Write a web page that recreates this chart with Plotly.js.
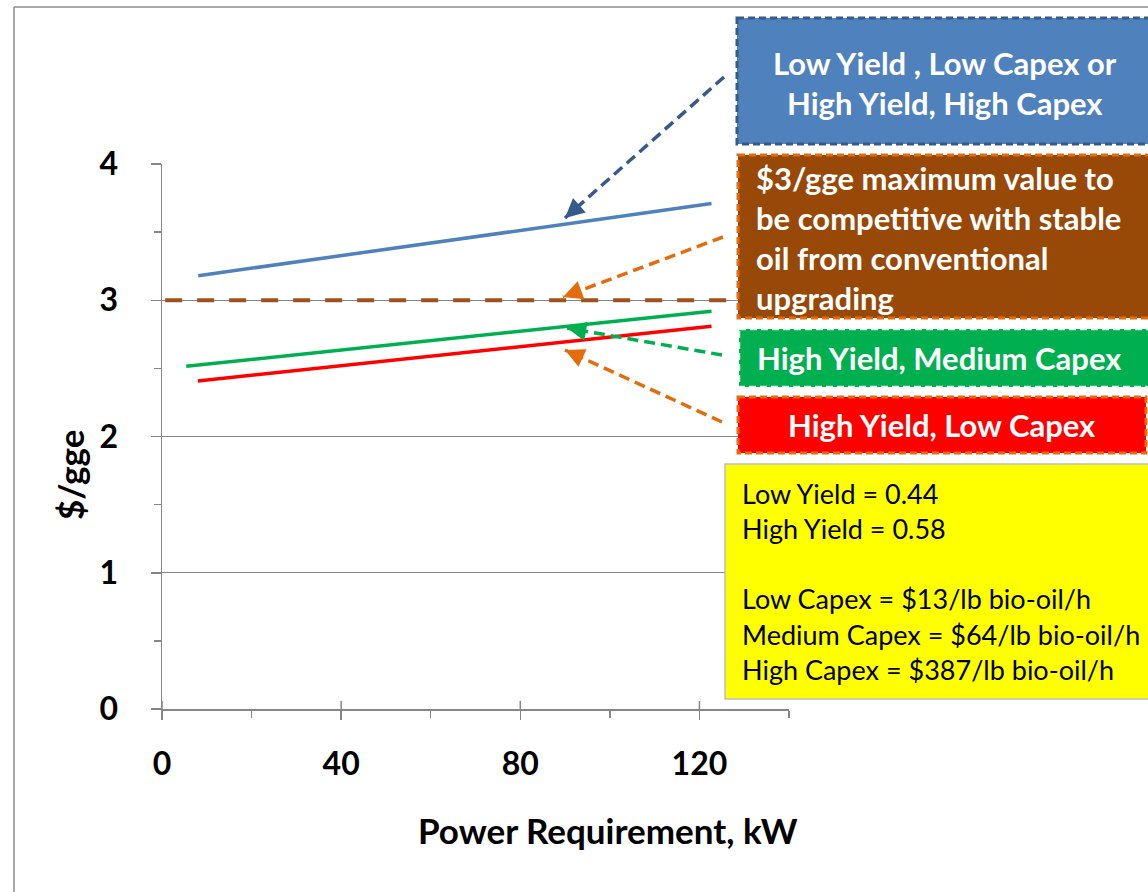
<!DOCTYPE html>
<html>
<head>
<meta charset="utf-8">
<script src="https://cdn.plot.ly/plotly-3.0.1.min.js"></script>
<style>
html,body{margin:0;padding:0;background:#fff;}
#chart{width:1148px;height:892px;}
</style>
</head>
<body>
<div id="chart"></div>
<script>
// ---- data ----
const powerBlue = [8.1, 122.7];
const costBlue = [3.18, 3.71];
const powerGreen = [5.4, 122.7];
const costGreen = [2.515, 2.92];
const powerRed = [8.0, 122.7];
const costRed = [2.407, 2.81];
const powerLimit = [0.7, 128];
const costLimit = [3, 3];
const xTicks = [0, 40, 80, 120];
const yTicks = [0, 1, 2, 3, 4];

const blueText = ["Low Yield , Low Capex or", "High Yield, High Capex"];
const brownText = ["$3/gge maximum value to", "be competitive with stable", "oil from conventional", "upgrading"];
const greenText = ["High Yield, Medium Capex"];
const redText = ["High Yield, Low Capex"];
const yellowText = ["Low Yield = 0.44", "High Yield = 0.58", "", "Low Capex = $13/lb bio-oil/h", "Medium Capex = $64/lb bio-oil/h", "High Capex = $387/lb bio-oil/h"];

// ---- layout geometry (pixels) ----
const W = 1148, H = 892;
const L = 162, R = 789, T = 164, B = 709;
const PW = R - L, PH = B - T;
const px = v => (v - L) / PW;
const py = v => (B - v) / PH;
const FONT = "Lato, 'Open Sans', sans-serif";

const traces = [
  {x: powerBlue, y: costBlue, mode: 'lines', line: {color: '#4F81BD', width: 3.5}, name: 'blue'},
  {x: powerLimit, y: costLimit, mode: 'lines', line: {color: '#9E531B', width: 4, dash: '17px,15px'}, name: 'limit'},
  {x: powerGreen, y: costGreen, mode: 'lines', line: {color: '#00B050', width: 3.5}, name: 'green'},
  {x: powerRed, y: costRed, mode: 'lines', line: {color: '#FF0000', width: 3.5}, name: 'red'}
];

const shapes = [];
const annotations = [];

// outer chart border (left and top)
shapes.push({type: 'line', xref: 'paper', yref: 'paper', x0: px(14), x1: px(14), y0: py(7), y1: py(900), line: {color: '#8C8C8C', width: 1.5}});
shapes.push({type: 'line', xref: 'paper', yref: 'paper', x0: px(14), x1: px(1160), y0: py(7), y1: py(7), line: {color: '#8C8C8C', width: 1.5}});

// crossing part of x-axis major ticks (inside portion)
xTicks.forEach(v => {
  shapes.push({type: 'line', xref: 'x', yref: 'paper', x0: v, x1: v, y0: 0, y1: 8 / PH, line: {color: '#868686', width: 1.5}});
});

// boxes
function box(x0, y0, x1, y1, fill, border, dash, width) {
  shapes.push({type: 'rect', xref: 'paper', yref: 'paper', layer: 'above',
    x0: px(x0), x1: px(x1), y0: py(y0), y1: py(y1),
    fillcolor: fill, line: {color: border, width: width, dash: dash}});
}
function lines(arr, xpos, yStart, step, anchor, size, color, bold) {
  arr.forEach((t, i) => {
    if (!t) return;
    annotations.push({xref: 'paper', yref: 'paper', x: px(xpos), y: py(yStart + i * step),
      xanchor: anchor, yanchor: 'middle', showarrow: false,
      text: bold ? '<b>' + t + '</b>' : t,
      font: {family: FONT, size: size, color: color}});
  });
}

// arrows: dashed shaft + arrowhead
function arrow(tx, ty, hx, hy, color) {
  shapes.push({type: 'line', xref: 'paper', yref: 'paper', layer: 'above',
    x0: px(tx), y0: py(ty), x1: px(hx), y1: py(hy),
    line: {color: color, width: 3.5, dash: '11px,6px'}});
  const dx = tx - hx, dy = ty - hy, len = Math.hypot(dx, dy);
  annotations.push({xref: 'paper', yref: 'paper', x: px(hx), y: py(hy), ax: dx / len * 16, ay: dy / len * 16,
    showarrow: true, arrowhead: 2, arrowsize: 1.1, arrowwidth: 3.5, arrowcolor: color, text: ''});
}

arrow(724, 77, 565, 218, '#375A8C');
arrow(723, 237, 563, 297, '#E46C0A');
arrow(722, 355, 567, 328, '#00B050');
arrow(722, 422, 565, 350, '#E46C0A');

box(737, 18, 1175, 144, '#4F81BD', '#375A8C', '7px,4px', 3);
box(738, 155, 1175, 318, '#984807', '#E46C0A', '7px,4px', 3);
box(739, 329, 1175, 387, '#00B050', 'rgba(255,255,255,0.85)', '7px,4px', 2.5);
box(738, 397, 1146, 453, '#FF0000', '#E46C0A', '7px,4px', 3);
box(725, 464, 1175, 699, '#FFFF00', '#BFBFBF', 'solid', 1.5);

lines(blueText, 945, 63, 40, 'center', 31, '#FFFFFF', true);
lines(brownText, 754, 178, 40, 'left', 31, '#FFFFFF', true);
lines(greenText, 939, 358, 40, 'center', 31, '#FFFFFF', true);
lines(redText, 942, 425, 40, 'center', 31, '#FFFFFF', true);
lines(yellowText, 740, 493, 35.3, 'left', 27, '#000000', false);

// axis titles
annotations.push({xref: 'paper', yref: 'paper', x: px(608), y: py(830), xanchor: 'center', yanchor: 'middle', showarrow: false,
  text: '<b>Power Requirement, kW</b>', font: {family: FONT, size: 35, color: '#000'}});
annotations.push({xref: 'paper', yref: 'paper', x: px(70), y: py(475), xanchor: 'center', yanchor: 'middle', showarrow: false, textangle: -90,
  text: '<b>$/gge</b>', font: {family: FONT, size: 35, color: '#000'}});

const layout = {
  width: W, height: H,
  margin: {l: L, r: W - R, t: T, b: H - B, pad: 0},
  paper_bgcolor: '#FFFFFF', plot_bgcolor: '#FFFFFF',
  showlegend: false,
  xaxis: {
    range: [0, 140], tickvals: xTicks, ticktext: xTicks.map(String),
    showgrid: false, zeroline: false, showline: true, linecolor: '#868686', linewidth: 1.5,
    ticks: 'outside', ticklen: 9, tickcolor: '#868686', tickwidth: 1.5,
    ticklabelstandoff: 17,
    minor: {dtick: 20, tick0: 0, ticks: 'outside', ticklen: 7, tickcolor: '#868686', showgrid: false},
    tickfont: {family: FONT, size: 32, color: '#000', weight: 'bold'},
    fixedrange: true
  },
  yaxis: {
    range: [0, 4], tickvals: yTicks, ticktext: yTicks.map(String),
    showgrid: true, gridcolor: '#868686', gridwidth: 1.2, zeroline: false,
    showline: true, linecolor: '#868686', linewidth: 1.5,
    ticks: 'outside', ticklen: 10, tickcolor: '#868686', tickwidth: 1.5,
    ticklabelstandoff: 26,
    minor: {dtick: 0.5, tick0: 0, ticks: 'outside', ticklen: 7, tickcolor: '#868686', showgrid: false},
    tickfont: {family: FONT, size: 32, color: '#000', weight: 'bold'},
    fixedrange: true
  },
  shapes: shapes,
  annotations: annotations
};

Plotly.newPlot('chart', traces, layout, {displayModeBar: false, staticPlot: true});
</script>
</body>
</html>
